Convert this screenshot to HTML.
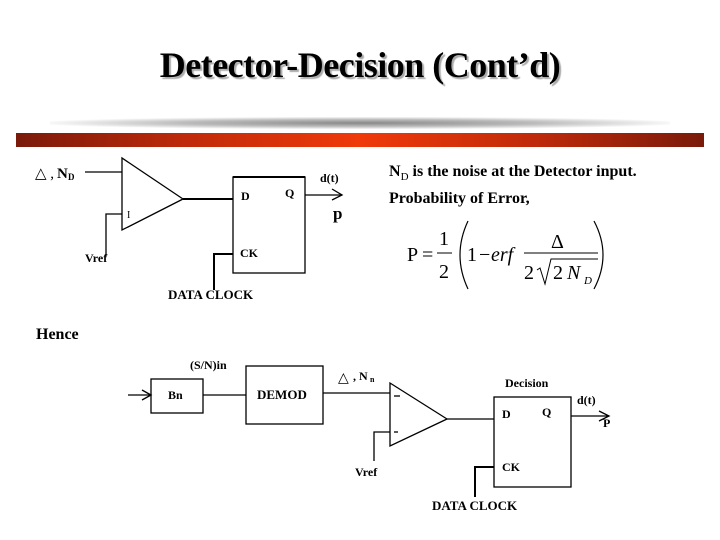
<!DOCTYPE html>
<html><head><meta charset="utf-8"><style>
body{margin:0;width:720px;height:540px;background:#fff;position:relative;overflow:hidden;font-family:"Liberation Serif",serif}
.t{position:absolute;white-space:nowrap}
</style></head><body>
<div class="t" style="left:0;width:720px;top:44px;text-align:center;font-size:36px;font-weight:bold;text-shadow:2px 2px 1px #aaa;letter-spacing:-0.5px">Detector-Decision (Cont’d)</div>
<div style="position:absolute;left:50px;top:117px;width:620px;height:12px;background:radial-gradient(ellipse at center,#888 0%,#bbb 40%,#fff 75%)"></div>
<div style="position:absolute;left:16px;top:133px;width:688px;height:14px;background:linear-gradient(90deg,#7a1a0a,#c02a0a 25%,#f03a0a 50%,#c02a0a 75%,#7a1a0a)"></div>
<div class="t" style="left:389px;top:161px;font-size:16px;line-height:21px;font-weight:bold">N<sub style="font-size:11px;font-weight:normal">D</sub> is the noise at the Detector input.<br>Probability of Error,</div>
<div class="t" style="left:36px;top:326px;font-size:16px;font-weight:bold">Hence</div>
<svg width="720" height="540" style="position:absolute;left:0;top:0" font-family="Liberation Serif,serif" font-weight="bold" font-size="12">
<g stroke="#000" fill="none" stroke-width="1.3">
<line x1="85" y1="172" x2="122" y2="172"/>
<polygon points="122,158 122,230 183,199"/>
<polyline points="122,214 106,214 106,256"/>
<line x1="183" y1="199" x2="233" y2="199" stroke-width="2"/>
<rect x="233" y="177" width="72" height="96"/>
<line x1="233" y1="177" x2="305" y2="177" stroke-width="2"/>
<line x1="305" y1="195" x2="342" y2="195"/>
<polyline points="332,189 342,195 332,200"/>
<polyline points="233,254 214,254 214,290" stroke-width="2"/>
<line x1="128" y1="395" x2="151" y2="395"/>
<polyline points="142,390 151,395 142,400"/>
<rect x="151" y="379" width="52" height="34"/>
<line x1="203" y1="395" x2="246" y2="395"/>
<rect x="246" y="366" width="77" height="58"/>
<line x1="323" y1="393" x2="390" y2="393"/>
<polygon points="390,383 390,446 447,419"/>
<polyline points="390,432 374,432 374,461"/>
<line x1="447" y1="419" x2="494" y2="419"/>
<rect x="494" y="397" width="77" height="90"/>
<line x1="571" y1="416" x2="609" y2="416"/>
<polyline points="599,411 609,416 599,421"/>
<polyline points="494,467 475,467 475,497" stroke-width="2"/>
<line x1="394" y1="396" x2="400" y2="396"/><line x1="394" y1="432" x2="398" y2="432"/>
</g>
<g fill="#000">
<text x="35" y="178" font-weight="normal" font-size="15">△ , </text><text x="57" y="178" font-size="15">N</text><text x="68" y="180" font-size="9">D</text>
<text x="127" y="218" font-weight="normal" font-size="10">I</text>
<text x="85" y="262">Vref</text>
<text x="241" y="200">D</text><text x="285" y="197">Q</text>
<text x="320" y="182">d(t)</text>
<text x="333" y="219" font-size="17">p</text>
<text x="240" y="257">CK</text>
<text x="168" y="299" font-size="13">DATA CLOCK</text>
<text x="190" y="369">(S/N)in</text>
<text x="168" y="399">Bn</text>
<text x="257" y="399" font-size="13">DEMOD</text>
<text x="338" y="382" font-weight="normal" font-size="14">△</text><text x="353" y="380">, N</text><text x="370" y="382" font-size="8">n</text>
<text x="355" y="476">Vref</text>
<text x="505" y="387">Decision</text>
<text x="502" y="418">D</text><text x="542" y="416">Q</text>
<text x="577" y="404">d(t)</text><text x="603" y="427">P</text>
<text x="502" y="471">CK</text>
<text x="432" y="510" font-size="13">DATA CLOCK</text>
</g>
<g font-weight="normal" font-size="20" fill="#000">
<text x="407" y="261">P</text><text x="422" y="261">=</text>
<text x="439" y="245">1</text><line x1="437" y1="253" x2="452" y2="253" stroke="#000" stroke-width="1"/><text x="439" y="278">2</text>
<path d="M468 221 Q452 255 468 289" stroke="#000" fill="none" stroke-width="1.2"/>
<text x="467" y="261">1</text><text x="479" y="261">−</text><text x="491" y="261" font-style="italic">erf</text>
<text x="551" y="248">Δ</text>
<line x1="524" y1="253" x2="598" y2="253" stroke="#000" stroke-width="1"/>
<text x="524" y="279">2</text>
<polyline points="537,270 540,268 545,284 551,259 598,259" stroke="#000" fill="none" stroke-width="1"/>
<text x="553" y="279">2</text><text x="567" y="279" font-style="italic">N</text><text x="584" y="284" font-style="italic" font-size="11">D</text>
<path d="M594 221 Q612 255 594 289" stroke="#000" fill="none" stroke-width="1.2"/>
</g>
</svg>
</body></html>
